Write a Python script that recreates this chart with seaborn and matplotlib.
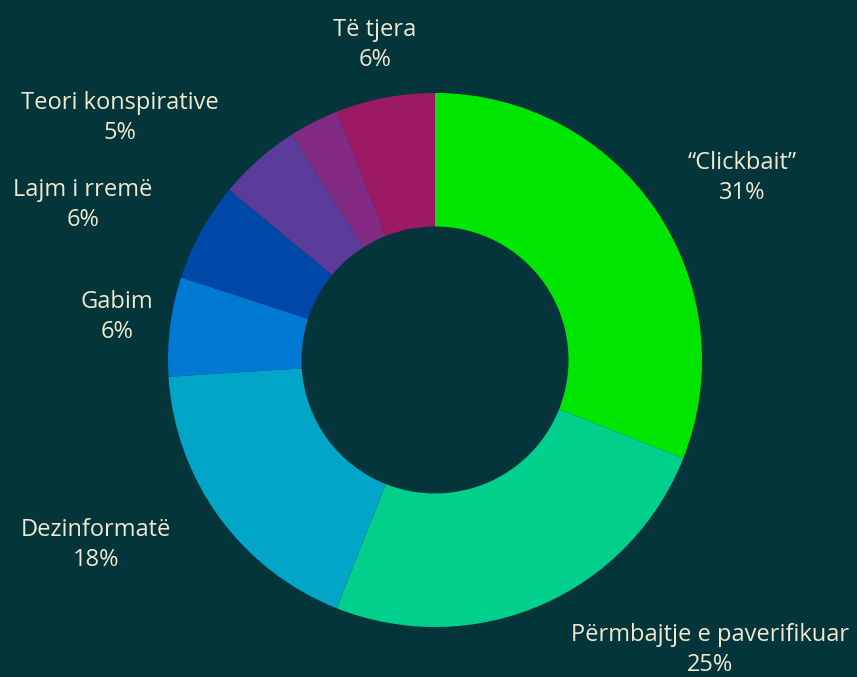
import matplotlib
matplotlib.use("Agg")
import matplotlib.pyplot as plt
import seaborn as sns

# data
categories = ["\u201cClickbait\u201d", "P\u00ebrmbajtje e paverifikuar", "Dezinformat\u00eb", "Gabim",
              "Lajm i rrem\u00eb", "Teori konspirative", "", "T\u00eb tjera"]
values = [31, 25, 18, 6, 6, 5, 3, 6]
colors = ["#00e600", "#00d08c", "#00a5c8", "#0079d4", "#0048a8", "#5c3c9a", "#832a84", "#9c1a63"]

# label centers (data coords, pie radius = 1)
label_pos = [(1.15, 0.682), (1.03, -1.086), (-1.27, -0.693), (-1.191, 0.161),
             (-1.318, 0.581), (-1.18, 0.906), None, (-0.225, 1.18)]

bg = "#04353a"
txt = "#efe9cf"

sns.set_style("white")
plt.rcParams["font.family"] = ["Open Sans", "DejaVu Sans"]

fig = plt.figure(figsize=(8.57, 6.77), dpi=100, facecolor=bg)
ax = fig.add_axes([0, 0, 1, 1])
ax.set_facecolor(bg)

ax.pie(values, colors=sns.color_palette(colors), startangle=90, counterclock=False,
       radius=1, wedgeprops=dict(width=0.5, edgecolor="none", antialiased=True))

for name, v, pos in zip(categories, values, label_pos):
    if pos is None or not name:
        continue
    ax.text(pos[0], pos[1], f"{name}\n{v}%", ha="center", va="center",
            color=txt, fontsize=17, linespacing=1.35)

ax.set_xlim(-435 / 267, (857 - 435) / 267)
ax.set_ylim(-(677 - 360) / 267, 360 / 267)
ax.set_aspect("equal")
ax.axis("off")

fig.savefig("out.png", dpi=100, facecolor=bg)
